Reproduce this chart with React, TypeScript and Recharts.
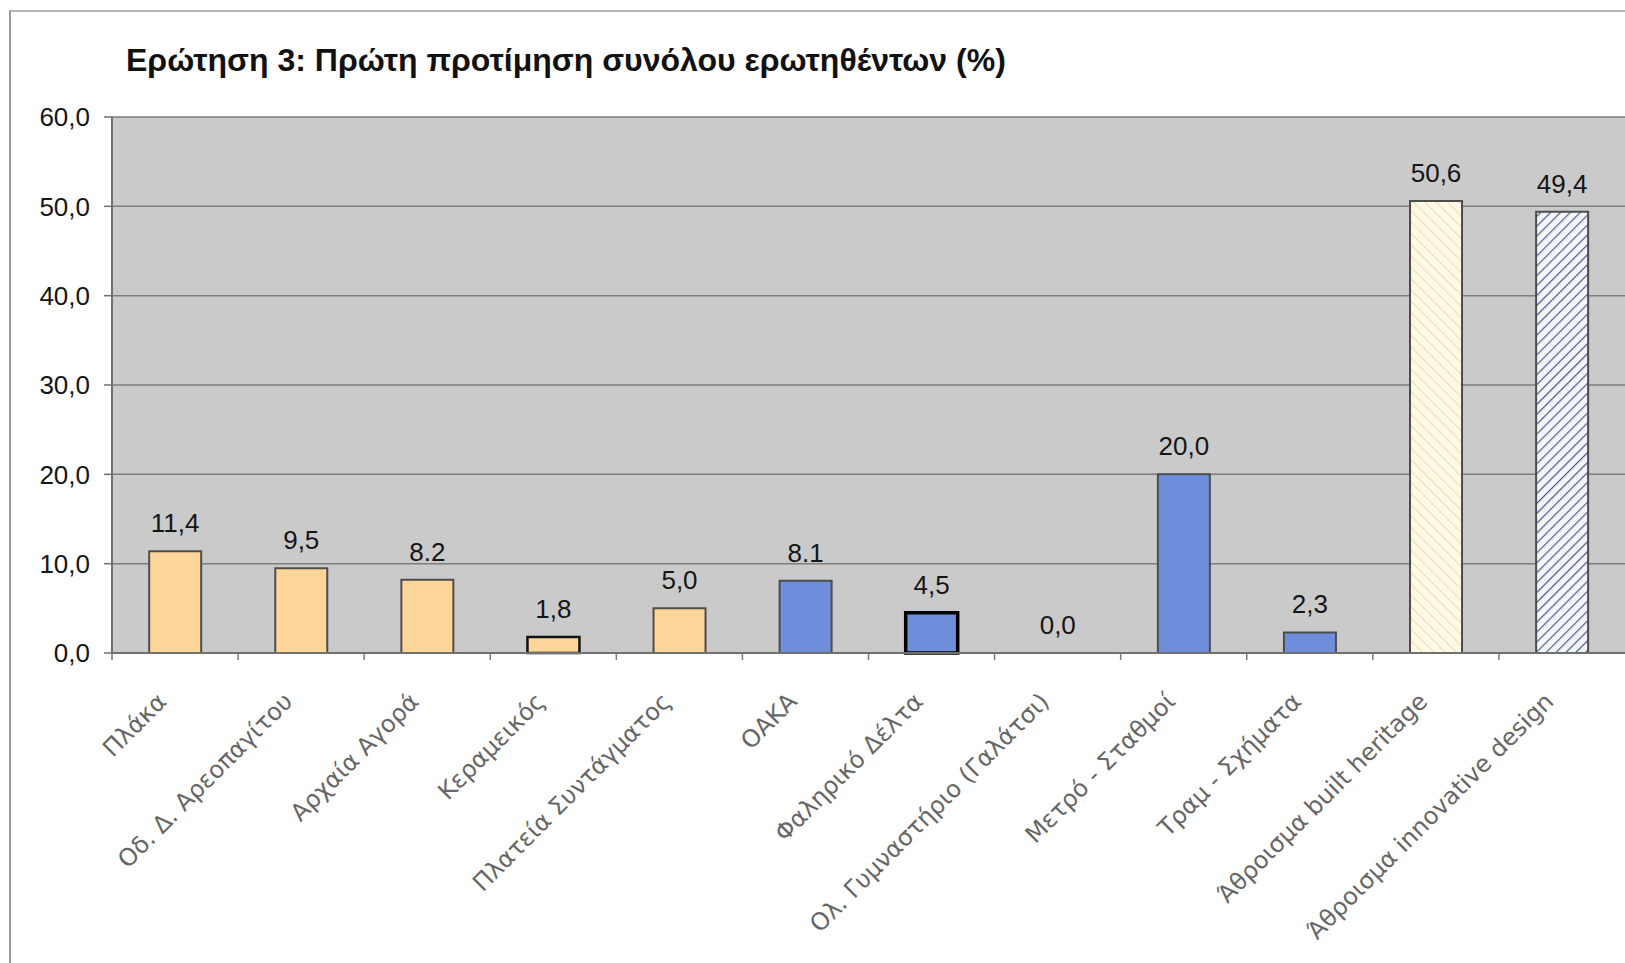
import React from 'react';
import { BarChart, Bar, XAxis, YAxis, CartesianGrid, Cell, LabelList } from 'recharts';

const CATEGORIES = [
  'Πλάκα',
  'Οδ. Δ. Αρεοπαγίτου',
  'Αρχαία Αγορά',
  'Κεραμεικός',
  'Πλατεία Συντάγματος',
  'ΟΑΚΑ',
  'Φαληρικό Δέλτα',
  'Ολ. Γυμναστήριο (Γαλάτσι)',
  'Μετρό - Σταθμοί',
  'Τραμ - Σχήματα',
  'Άθροισμα built heritage',
  'Άθροισμα innovative design',
];
const VALUES = [11.4, 9.5, 8.2, 1.8, 5.0, 8.1, 4.5, 0.0, 20.0, 2.3, 50.6, 49.4];
const VALUE_LABELS = ['11,4', '9,5', '8.2', '1,8', '5,0', '8.1', '4,5', '0,0', '20,0', '2,3', '50,6', '49,4'];
const GROUPS = ['heritage', 'heritage', 'heritage', 'heritage', 'heritage', 'design', 'design', 'design', 'design', 'design', 'sumHeritage', 'sumDesign'];
const Y_TICKS = [0, 10, 20, 30, 40, 50, 60];
const TITLE = 'Ερώτηση 3: Πρώτη προτίμηση συνόλου ερωτηθέντων (%)';

const data = CATEGORIES.map((name, i) => ({ name, value: VALUES[i], label: VALUE_LABELS[i], group: GROUPS[i] }));

const FILL: Record<string, string> = {
  heritage: '#FFD699',
  design: '#6E8EDC',
  sumHeritage: 'url(#hatchCream)',
  sumDesign: 'url(#hatchBlue)',
};
// per-bar outline styling as seen in the scan
const STROKE_STYLE: Record<number, { stroke: string; width: number }> = {
  3: { stroke: '#111111', width: 2.5 },
  6: { stroke: '#000000', width: 3.5 },
};

const W = 1625;
const H = 963;
const PLOT_LEFT = 112;
const PLOT_TOP = 117;
const X_AXIS_H = 310;
const BAND = (W - PLOT_LEFT) / CATEGORIES.length;
const NUM_FONT = 'Liberation Sans, Arial, sans-serif';

const XTick = (props: any) => {
  const { x, y, payload } = props;
  return (
    <g transform={`translate(${x},${y})`}>
      <line x1={-BAND / 2} y1={0} x2={-BAND / 2} y2={7} stroke="#7a7a7a" strokeWidth={1.5} />
      <text
        x={0}
        y={0}
        transform="translate(-7,50) rotate(-45)"
        textAnchor="end"
        fontFamily="DejaVu Sans, sans-serif"
        fontSize={24}
        fill="#666666"
      >
        {payload.value}
      </text>
    </g>
  );
};

const ValueLabel = (props: any) => {
  const { x, y, width, value } = props;
  return (
    <text
      x={x + width / 2}
      y={y - 19}
      textAnchor="middle"
      fontFamily={NUM_FONT}
      fontSize={26}
      fill="#151515"
    >
      {value}
    </text>
  );
};

export default function App() {
  return (
    <div style={{ position: 'absolute', left: 0, top: 0, width: W, height: H, background: '#ffffff', overflow: 'hidden' }}>
      <div
        style={{
          position: 'absolute',
          left: 9,
          top: 10,
          width: W,
          height: H - 12,
          borderLeft: '2px solid #9a9a9a',
          borderTop: '2px solid #b5b5b5',
          borderBottom: '2px solid #b5b5b5',
        }}
      />
      <div
        style={{
          position: 'absolute',
          left: 126,
          top: 42,
          fontFamily: NUM_FONT,
          fontWeight: 'bold',
          fontSize: 32,
          color: '#111',
          whiteSpace: 'nowrap',
        }}
      >
        {TITLE}
      </div>
      <div style={{ position: 'absolute', left: 0, top: 0 }}>
        <BarChart
          width={W}
          height={H}
          data={data}
          margin={{ top: PLOT_TOP, right: 0, bottom: 0, left: 0 }}
          barCategoryGap="29.5%"
        >
          <defs>
            <pattern id="hatchCream" patternUnits="userSpaceOnUse" width="8" height="8" patternTransform="rotate(-45)">
              <rect width="8" height="8" fill="#FFF9E6" />
              <line x1="0" y1="0" x2="0" y2="8" stroke="#ECE0BE" strokeWidth="2.5" />
            </pattern>
            <pattern id="hatchBlue" patternUnits="userSpaceOnUse" width="7" height="7" patternTransform="rotate(45)">
              <rect width="7" height="7" fill="#F4F6FB" />
              <line x1="0" y1="0" x2="0" y2="7" stroke="#4A5A8E" strokeWidth="2.4" />
            </pattern>
          </defs>
          <CartesianGrid vertical={false} stroke="#7d7d7d" strokeWidth={1.5} fill="#CACACA" />
          <XAxis
            dataKey="name"
            interval={0}
            height={X_AXIS_H}
            tickLine={false}
            tickSize={0}
            tickMargin={0}
            axisLine={{ stroke: '#707070', strokeWidth: 2 }}
            tick={<XTick />}
          />
          <YAxis
            width={PLOT_LEFT}
            domain={[0, 60]}
            ticks={Y_TICKS}
            interval={0}
            tickSize={8}
            tickMargin={14}
            tickLine={{ stroke: '#707070', strokeWidth: 1.5 }}
            axisLine={{ stroke: '#707070', strokeWidth: 2 }}
            tickFormatter={(v: number) => v.toFixed(1).replace('.', ',')}
            tick={{ fontFamily: NUM_FONT, fontSize: 26, fill: '#151515' }}
          />
          <Bar dataKey="value" isAnimationActive={false} stroke="#4d4d4d" strokeWidth={2} minPointSize={0.01}>
            {data.map((d, i) => (
              <Cell
                key={i}
                fill={FILL[d.group]}
                stroke={STROKE_STYLE[i] ? STROKE_STYLE[i].stroke : '#4d4d4d'}
                strokeWidth={STROKE_STYLE[i] ? STROKE_STYLE[i].width : 2}
              />
            ))}
            <LabelList dataKey="label" content={<ValueLabel />} />
          </Bar>
        </BarChart>
      </div>
    </div>
  );
}
